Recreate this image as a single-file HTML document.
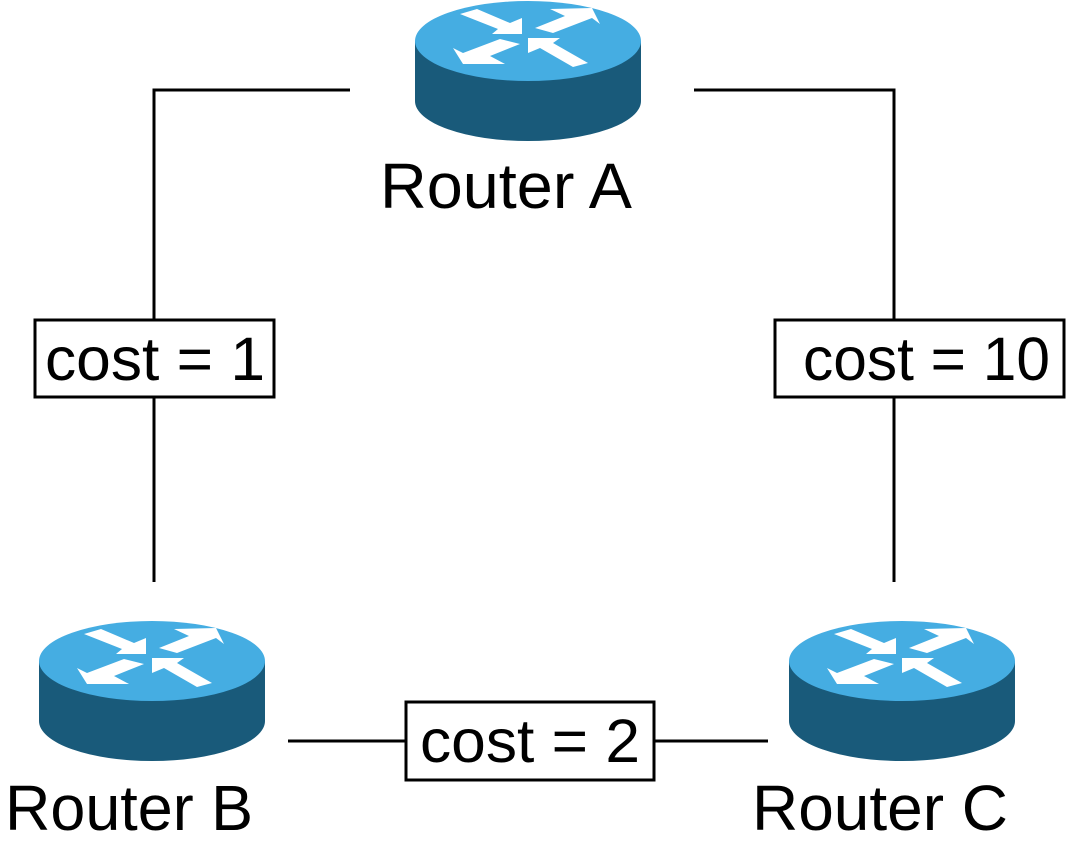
<!DOCTYPE html>
<html><head><meta charset="utf-8"><style>
html,body{margin:0;padding:0;background:#fff;}
svg{display:block;}
text{font-family:"Liberation Sans",sans-serif;fill:#000;}
</style></head><body>
<svg width="1081" height="853" viewBox="0 0 1081 853" xmlns="http://www.w3.org/2000/svg">
<defs>
<g id="router">
<path d="M0,40 L0,100 A113,40 0 0 0 226,100 L226,40 Z" fill="#195a7a"/>
<ellipse cx="113" cy="40" rx="113" ry="40" fill="#45ade2"/>
<g fill="#fff">
<polygon points="45,13 62,8 95,22 107,17 107,33 77,33 83,28"/>
<polygon points="120,27 150,15 135,8 177,7 185,23 177,17 138,32"/>
<polygon points="105,43 75,55 90,63 48,63 38,47 48,52 85,38"/>
<polygon points="113,37 145,37 138,42 173,62 158,66 125,47 113,52"/>
</g>
</g>
</defs>
<g stroke="#000" stroke-width="3" fill="none">
<polyline points="350,90 154,90 154,320"/>
<line x1="154" y1="397" x2="154" y2="582"/>
<polyline points="694,90 894,90 894,320"/>
<line x1="894" y1="397" x2="894" y2="582"/>
<line x1="288" y1="741" x2="406" y2="741"/>
<line x1="654" y1="741" x2="768" y2="741"/>
<rect x="35" y="320" width="239" height="77"/>
<rect x="775" y="320" width="289" height="77"/>
<rect x="406" y="702" width="248" height="78"/>
</g>
<use href="#router" x="415" y="1"/>
<use href="#router" x="39" y="621"/>
<use href="#router" x="789" y="621"/>
<text x="45" y="380" font-size="61" textLength="220" lengthAdjust="spacingAndGlyphs">cost = 1</text>
<text x="803" y="380" font-size="61" textLength="247" lengthAdjust="spacingAndGlyphs">cost = 10</text>
<text x="420" y="762" font-size="61" textLength="220" lengthAdjust="spacingAndGlyphs">cost = 2</text>
<text x="380" y="208" font-size="64" textLength="252" lengthAdjust="spacingAndGlyphs">Router A</text>
<text x="5" y="830" font-size="64" textLength="248" lengthAdjust="spacingAndGlyphs">Router B</text>
<text x="752" y="830" font-size="64" textLength="256" lengthAdjust="spacingAndGlyphs">Router C</text>
</svg>
</body></html>
